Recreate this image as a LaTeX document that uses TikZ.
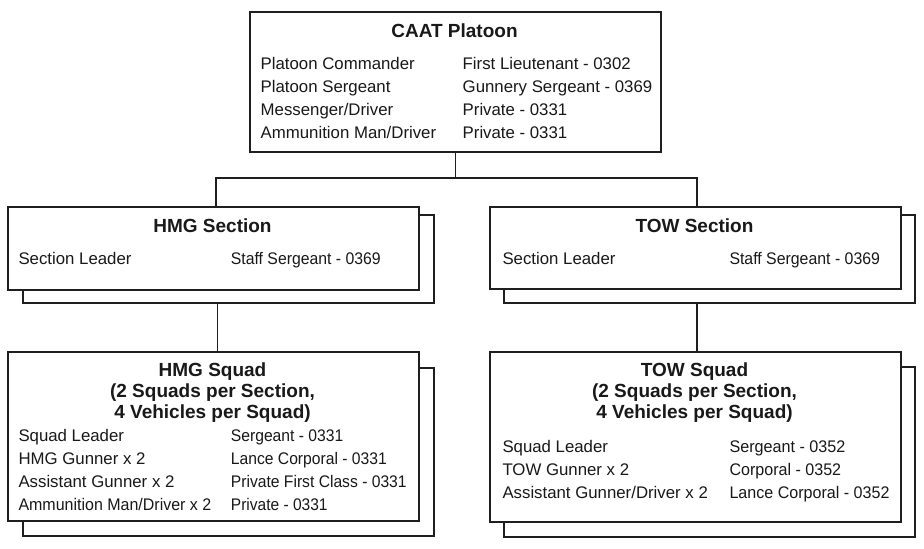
\documentclass[tikz,border=0pt]{standalone}
\usepackage{fontspec}
\usepackage{graphicx}
\setmainfont{Liberation Sans}
\newcommand\hsq[2]{\scalebox{#1}[1]{#2}}
\begin{document}
\begin{tikzpicture}[x=1pt,y=-1pt,
  box/.style={draw=black!88, line width=1.6pt, fill=white, inner sep=0pt, anchor=north west},
  conn/.style={draw=black!88, line width=1.6pt},
  ttl/.style={inner sep=0pt, anchor=base, font=\fontsize{19}{21}\selectfont\bfseries, text=black!90},
  txt/.style={inner sep=0pt, anchor=base west, font=\fontsize{16.8}{23}\selectfont, text=black!90}]
\useasboundingbox (0,0) rectangle (924,549);
% boxes
\node[box, minimum width=411pt, minimum height=140pt] (top) at (249,11) {};
\node[box, minimum width=411pt, minimum height=88pt] (hmgsecb) at (22,214) {};
\node[box, minimum width=411pt, minimum height=83pt] (hmgsec) at (7,206) {};
\node[box, minimum width=411pt, minimum height=88pt] (towsecb) at (503,214) {};
\node[box, minimum width=411pt, minimum height=82pt] (towsec) at (489,206) {};
\node[box, minimum width=411pt, minimum height=168pt] (hmgsqb) at (22,367) {};
\node[box, minimum width=411pt, minimum height=169pt] (hmgsq) at (7,351) {};
\node[box, minimum width=411pt, minimum height=170pt] (towsqb) at (503,366) {};
\node[box, minimum width=411pt, minimum height=170pt] (towsq) at (489,351) {};
% connectors
\coordinate (jn) at (453,178);
\draw[conn] (top.south) -- (top.south |- jn);
\draw[conn] ([xshift=2.5pt]hmgsec.north) |- (jn) -| ([xshift=1.5pt]towsec.north);
\draw[conn] ([xshift=4pt]hmgsq.north) -- ([xshift=4pt]hmgsq.north |- hmgsecb.south);
\draw[conn] ([xshift=1.5pt]towsq.north) -- ([xshift=1.5pt]towsq.north |- towsecb.south);
% CAAT Platoon
\node[ttl] (t0) at (454.5,37) {CAAT Platoon};
\node[txt] (t0a1) at (260.5,69) {Platoon Commander};
\node[txt] (t0b1) at (462.5,69) {First Lieutenant - 0302};
\node[txt] (t0a2) at (260.5,92) {Platoon Sergeant};
\node[txt] (t0b2) at (462.5,92) {Gunnery Sergeant - 0369};
\node[txt] (t0a3) at (260.5,115) {Messenger/Driver};
\node[txt] (t0b3) at (462.5,115) {Private - 0331};
\node[txt] (t0a4) at (260.5,138) {Ammunition Man/Driver};
\node[txt] (t0b4) at (462.5,138) {Private - 0331};
% HMG Section
\node[ttl] (t1) at (212.5,232.5) {HMG Section};
\node[txt] (t1a1) at (18.3,264.5) {Section Leader};
\node[txt] (t1b1) at (230.7,264.5) {\hsq{0.94}{Staff Sergeant - 0369}};
% TOW Section
\node[ttl] (t2) at (694.5,232.5) {TOW Section};
\node[txt] (t2a1) at (502.3,264.5) {Section Leader};
\node[txt] (t2b1) at (729.3,264.5) {\hsq{0.944}{Staff Sergeant - 0369}};
% HMG Squad
\node[ttl] (t3l1) at (212.5,376) {HMG Squad};
\node[ttl] (t3l2) at (212.5,397.3) {(2 Squads per Section,};
\node[ttl] (t3l3) at (212.5,418.5) {4 Vehicles per Squad)};
\node[txt] (t3a1) at (18.3,441) {Squad Leader};
\node[txt] (t3b1) at (230.7,441) {\hsq{0.933}{Sergeant - 0331}};
\node[txt] (t3a2) at (18.3,464) {HMG Gunner x 2};
\node[txt] (t3b2) at (230.7,464) {\hsq{0.933}{Lance Corporal - 0331}};
\node[txt] (t3a3) at (18.3,487) {Assistant Gunner x 2};
\node[txt] (t3b3) at (230.7,487) {\hsq{0.932}{Private First Class - 0331}};
\node[txt] (t3a4) at (18.3,510) {\hsq{0.952}{Ammunition Man/Driver x 2}};
\node[txt] (t3b4) at (230.7,510) {\hsq{0.925}{Private - 0331}};
% TOW Squad
\node[ttl] (t4l1) at (694.5,376) {TOW Squad};
\node[ttl] (t4l2) at (694.5,397.3) {(2 Squads per Section,};
\node[ttl] (t4l3) at (694.5,418.5) {4 Vehicles per Squad)};
\node[txt] (t4a1) at (502.3,452) {Squad Leader};
\node[txt] (t4b1) at (729.3,452) {\hsq{0.962}{Sergeant - 0352}};
\node[txt] (t4a2) at (502.3,475) {TOW Gunner x 2};
\node[txt] (t4b2) at (729.3,475) {\hsq{0.957}{Corporal - 0352}};
\node[txt] (t4a3) at (502.3,498.3) {Assistant Gunner/Driver x 2};
\node[txt] (t4b3) at (729.3,498.3) {\hsq{0.957}{Lance Corporal - 0352}};
\end{tikzpicture}
\end{document}
